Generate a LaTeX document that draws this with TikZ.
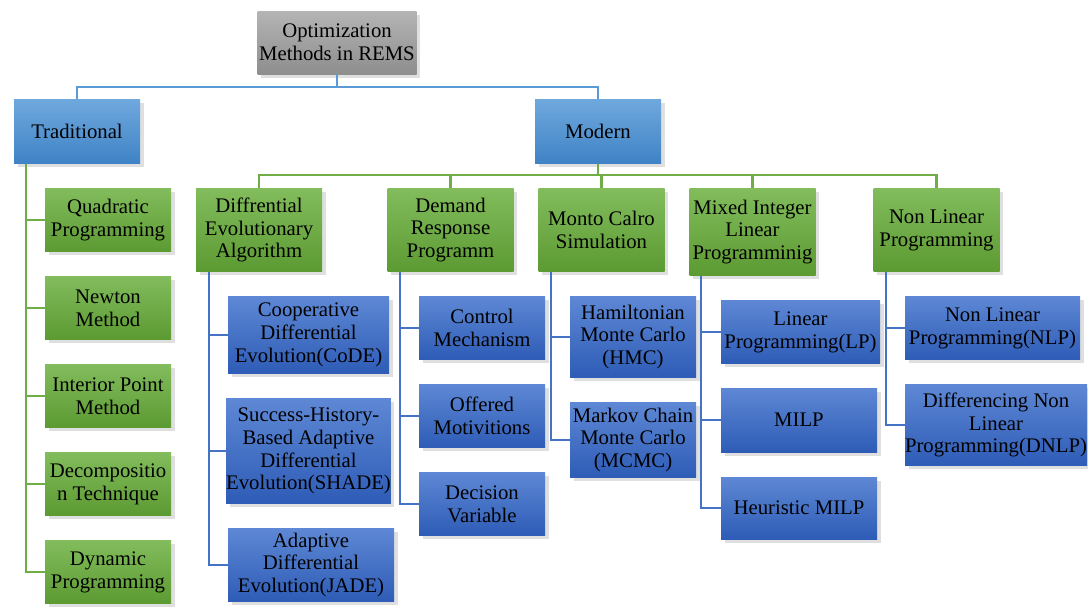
\documentclass[tikz,border=0pt]{standalone}
\usepackage{fontspec}
\setmainfont{Liberation Serif}
\usetikzlibrary{shadows}

\definecolor{rootTop}{HTML}{B4B4B4}
\definecolor{rootBottom}{HTML}{8E8E8E}
\definecolor{branchTop}{HTML}{6FA8DD}
\definecolor{branchBottom}{HTML}{3F83C6}
\definecolor{greenTop}{HTML}{82BC5C}
\definecolor{greenBottom}{HTML}{5C9A32}
\definecolor{leafTop}{HTML}{5E88D5}
\definecolor{leafBottom}{HTML}{2E5CB6}
\definecolor{trunkLine}{HTML}{5B9BD5}
\definecolor{greenLine}{HTML}{70AD47}
\definecolor{leafLine}{HTML}{4472C4}

\begin{document}
\begin{tikzpicture}[
    node distance=1.76cm,
    font=\fontsize{11.8}{13}\selectfont,
    box/.style={rectangle, align=center, inner sep=0pt, drop shadow={shadow xshift=0.7mm, shadow yshift=-0.7mm, opacity=0.25}},
    root/.style={box, top color=rootTop, bottom color=rootBottom, minimum width=3.18cm, minimum height=1.26cm},
    branch/.style={box, top color=branchTop, bottom color=branchBottom, minimum width=2.52cm, minimum height=1.28cm},
    method/.style={box, top color=greenTop, bottom color=greenBottom, minimum width=2.52cm, minimum height=1.26cm},
    leaf/.style={box, top color=leafTop, bottom color=leafBottom, minimum width=2.52cm, minimum height=1.26cm},
    trunk/.style={draw=trunkLine, line width=1.2pt},
    greenlink/.style={draw=greenLine, line width=1.2pt},
    leaflink/.style={draw=leafLine, line width=1.2pt}
]
\useasboundingbox (0,0) rectangle (21.76,-12.12);

% Root and the two families
\node[root] (root) at (6.74,-0.85) {Optimization\\Methods in REMS};
\node[branch, below of=root, xshift=-5.2cm, yshift=-0.02cm] (traditional) {Traditional};
\node[branch, below of=root, xshift=5.22cm, yshift=-0.02cm] (modern) {Modern};

% Traditional methods
\node[method, below of=traditional, xshift=0.62cm, yshift=-0.01cm] (quadratic) {Quadratic\\Programming};
\node[method, below of=quadratic] (newton) {Newton\\Method};
\node[method, below of=newton] (interior) {Interior Point\\Method};
\node[method, below of=interior] (decomposition) {Decompositio\\n Technique};
\node[method, below of=decomposition] (dynamic) {Dynamic\\Programming};

% Modern methods
\node[method, minimum height=1.66cm, below of=modern, xshift=-6.78cm, yshift=-0.21cm] (dea) {Diffrential\\Evolutionary\\Algorithm};
\node[method, minimum height=1.66cm, below of=modern, xshift=-2.95cm, yshift=-0.21cm] (drp) {Demand\\Response\\Programm};
\node[method, minimum height=1.66cm, below of=modern, xshift=0.07cm, yshift=-0.21cm] (mcs) {Monto Calro\\Simulation};
\node[method, minimum height=1.74cm, below of=modern, xshift=3.09cm, yshift=-0.25cm] (mil) {Mixed Integer\\Linear\\Programminig};
\node[method, minimum height=1.66cm, below of=modern, xshift=6.77cm, yshift=-0.21cm] (nl) {Non Linear\\Programming};

% Differential evolution variants
\node[leaf, minimum width=3.22cm, minimum height=1.54cm, below of=dea, xshift=0.99cm, yshift=-0.34cm] (code) {Cooperative\\Differential\\Evolution(CoDE)};
\node[leaf, minimum width=3.22cm, minimum height=2.1cm, below of=code, yshift=-0.56cm] (shade) {Success-History-\\Based Adaptive\\Differential\\Evolution(SHADE)};
\node[leaf, minimum width=3.32cm, minimum height=1.46cm, below of=shade, xshift=0.05cm, yshift=-0.52cm] (jade) {Adaptive\\Differential\\Evolution(JADE)};

% Demand response
\node[leaf, below of=drp, xshift=0.63cm, yshift=-0.2cm] (control) {Control\\Mechanism};
\node[leaf, below of=control] (offered) {Offered\\Motivitions};
\node[leaf, below of=offered] (decision) {Decision\\Variable};

% Monte Carlo
\node[leaf, minimum height=1.62cm, below of=mcs, xshift=0.63cm, yshift=-0.38cm] (hmc) {Hamiltonian\\Monte Carlo\\(HMC)};
\node[leaf, minimum height=1.5cm, below of=hmc, yshift=-0.3cm] (mcmc) {Markov Chain\\Monte Carlo\\(MCMC)};

% Mixed integer
\node[leaf, minimum width=3.18cm, below of=mil, xshift=0.96cm, yshift=-0.24cm] (lp) {Linear\\Programming(LP)};
\node[leaf, minimum width=3.12cm, minimum height=1.28cm, below of=lp, xshift=-0.03cm] (milp) {MILP};
\node[leaf, minimum width=3.12cm, minimum height=1.24cm, below of=milp] (heuristic) {Heuristic MILP};

% Non linear
\node[leaf, minimum width=3.5cm, below of=nl, xshift=1.12cm, yshift=-0.2cm] (nlp) {Non Linear\\Programming(NLP)};
\node[leaf, minimum width=3.64cm, minimum height=1.62cm, below of=nlp, xshift=0.07cm, yshift=-0.18cm] (dnlp) {Differencing Non\\Linear\\Programming(DNLP)};

% Root links
\draw[trunk] (root.south) -- ++(0,-0.26) -| (traditional.north);
\draw[trunk] (root.south) -- ++(0,-0.26) -| (modern.north);

% Traditional links
\draw[greenlink] ([xshift=0.24cm]traditional.south west) |- (quadratic.west);
\draw[greenlink] ([xshift=0.24cm]traditional.south west) |- (newton.west);
\draw[greenlink] ([xshift=0.24cm]traditional.south west) |- (interior.west);
\draw[greenlink] ([xshift=0.24cm]traditional.south west) |- (decomposition.west);
\draw[greenlink] ([xshift=0.24cm]traditional.south west) |- (dynamic.west);

% Modern links
\draw[greenlink] (modern.south) -- ++(0,-0.23) -| (dea.north);
\draw[greenlink] (modern.south) -- ++(0,-0.23) -| (drp.north);
\draw[greenlink] (modern.south) -- ++(0,-0.23) -| (mcs.north);
\draw[greenlink] (modern.south) -- ++(0,-0.23) -| (mil.north);
\draw[greenlink] (modern.south) -- ++(0,-0.23) -| (nl.north);

% Leaf links
\draw[leaflink] ([xshift=0.26cm]dea.south west) |- (code.west);
\draw[leaflink] ([xshift=0.26cm]dea.south west) |- (shade.west);
\draw[leaflink] ([xshift=0.26cm]dea.south west) |- (jade.west);

\draw[leaflink] ([xshift=0.26cm]drp.south west) |- (control.west);
\draw[leaflink] ([xshift=0.26cm]drp.south west) |- (offered.west);
\draw[leaflink] ([xshift=0.26cm]drp.south west) |- (decision.west);

\draw[leaflink] ([xshift=0.26cm]mcs.south west) |- (hmc.west);
\draw[leaflink] ([xshift=0.26cm]mcs.south west) |- (mcmc.west);

\draw[leaflink] ([xshift=0.24cm]mil.south west) |- (lp.west);
\draw[leaflink] ([xshift=0.24cm]mil.south west) |- (milp.west);
\draw[leaflink] ([xshift=0.24cm]mil.south west) |- (heuristic.west);

\draw[leaflink] ([xshift=0.26cm]nl.south west) |- (nlp.west);
\draw[leaflink] ([xshift=0.26cm]nl.south west) |- (dnlp.west);

\end{tikzpicture}
\end{document}
